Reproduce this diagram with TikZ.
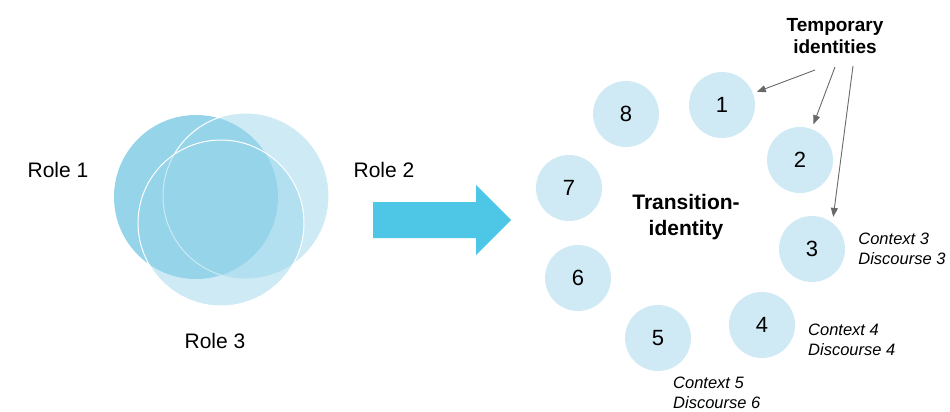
\documentclass[tikz,border=0pt]{standalone}
\usepackage{fontspec}
\setmainfont{Liberation Sans}
\usetikzlibrary{arrows.meta,positioning}
\definecolor{rolebase}{RGB}{150,212,234}
\definecolor{bigarrow}{RGB}{78,198,230}
\definecolor{idfill}{RGB}{207,234,244}
\definecolor{pointer}{RGB}{105,105,105}
\begin{document}
\begin{tikzpicture}[x=1pt,y=-1pt,
	idcircle/.style={circle, fill=idfill, minimum size=66pt, inner sep=0pt, font=\fontsize{22}{24}\selectfont},
	rolelabel/.style={font=\fontsize{21}{24}\selectfont},
	ctxlabel/.style={align=left, inner sep=0pt, font=\fontsize{16.5}{20}\selectfont\itshape},
	pointerarrow/.style={draw=pointer, line width=0.9pt, -{Triangle[length=9pt,width=7pt]}}]
	\useasboundingbox (0,0) rectangle (950,412);
	%roles
	\fill[rolebase] (196,197) circle (82);
	\filldraw[fill=rolebase, fill opacity=0.48, draw=white, line width=1pt] (246,196) circle (83);
	\filldraw[fill=rolebase, fill opacity=0.48, draw=white, line width=1pt] (221,223) circle (83);
	\node[rolelabel] (role1) at (58,170) {Role 1};
	\node[rolelabel] (role2) at (384,170) {Role 2};
	\node[rolelabel] (role3) at (215,341) {Role 3};
	%big arrow
	\fill[bigarrow] (373,202) -- (476,202) -- (476,185) -- (511,220) -- (476,255) -- (476,238) -- (373,238) -- cycle;
	%temporary identities
	\node[idcircle] (c1) at (722,105) {1};
	\node[idcircle] (c2) at (800,160) {2};
	\node[idcircle] (c3) at (812,249) {3};
	\node[idcircle] (c4) at (762,325) {4};
	\node[idcircle] (c5) at (658,338) {5};
	\node[idcircle] (c6) at (578,278) {6};
	\node[idcircle] (c7) at (569,188) {7};
	\node[idcircle] (c8) at (626,114) {8};
	\node[align=center, font=\fontsize{21}{26}\selectfont\bfseries] (trans) at (686,217) {Transition-\\identity};
	\node[align=center, font=\fontsize{19}{22}\selectfont\bfseries] (temp) at (835,36) {Temporary\\identities};
	%contexts
	\node[ctxlabel, right=13pt of c3] (ctx3) {Context 3\\Discourse 3};
	\node[ctxlabel, anchor=west] (ctx4) at (808,340) {Context 4\\Discourse 4};
	\node[ctxlabel, anchor=west] (ctx5) at (673,393) {Context 5\\Discourse 6};
	%pointers
	\coordinate (t1) at (815,70);
	\coordinate (t2) at (835,67);
	\coordinate (t3) at (853,66);
	\draw[pointerarrow, shorten >=4pt] (t1) -- (c1);
	\draw[pointerarrow, shorten >=5pt] (t2) -- (c2);
	\draw[pointerarrow, shorten >=6pt] (t3) -- (c3.52);
\end{tikzpicture}
\end{document}
